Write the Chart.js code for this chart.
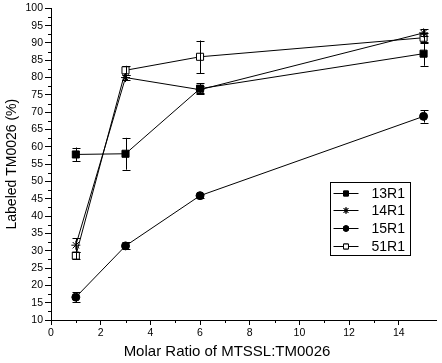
<!DOCTYPE html>
<html>
<head>
<meta charset="utf-8">
<script src="https://cdn.jsdelivr.net/npm/chart.js@4"></script>
<style>
  html, body { margin: 0; padding: 0; background: #fff; }
  #wrap { width: 442px; height: 363px; }
</style>
</head>
<body>
<div id="wrap"><canvas id="chart"></canvas></div>
<script>
// Molar ratios tested
const ratios = [1, 3, 6, 15];

// Labeled fraction (%) per mutant, with error bar half-widths
const labels13R1 = [57.8, 58.0, 76.8, 86.9];
const errors13R1 = [2.0, 4.6, 1.5, 3.5];
const labels14R1 = [31.6, 80.0, 76.5, 92.9];
const errors14R1 = [2.0, 0.8, 1.0, 1.0];
const labels15R1 = [16.6, 31.4, 45.9, 68.8];
const errors15R1 = [1.4, 1.0, 0.6, 1.8];
const labels51R1 = [28.6, 82.1, 86.0, 91.5];
const errors51R1 = [1.0, 1.3, 4.7, 1.5];

const seriesNames = ['13R1', '14R1', '15R1', '51R1'];
const xTitle = 'Molar Ratio of MTSSL:TM0026';
const yTitle = 'Labeled TM0026 (%)';

const FONT = "'Liberation Sans', Arial, sans-serif";

function toPoints(ys) {
    return ratios.map((x, i) => ({ x: x, y: ys[i] }));
}

function makeSet(name, ys, errs, style, radius, fill) {
    return {
        label: name,
        data: toPoints(ys),
        errors: errs,
        borderColor: '#000',
        borderWidth: 1,
        pointStyle: style,
        pointRadius: radius,
        pointHoverRadius: radius,
        pointBackgroundColor: fill,
        pointBorderColor: '#000',
        pointBorderWidth: 1,
        tension: 0,
        fill: false
    };
}

// hide the tick mark of unlabeled (minor) ticks, drawn shorter by the plugin below
function majorTickColor(ctx) {
    return ctx.tick && ctx.tick.label === '' ? 'rgba(0,0,0,0)' : '#000';
}

const minorTicks = {
    id: 'minorTicks',
    afterDraw(chart) {
        const ctx = chart.ctx;
        const xs = chart.scales.x, ys = chart.scales.y;
        ctx.save();
        ctx.strokeStyle = '#000';
        ctx.lineWidth = 1;
        ctx.beginPath();
        xs.ticks.forEach(t => {
            if (t.label !== '') return;
            const px = Math.round(xs.getPixelForValue(t.value)) + 0.5;
            ctx.moveTo(px, xs.top); ctx.lineTo(px, xs.top + 3);
        });
        ys.ticks.forEach(t => {
            if (t.label !== '') return;
            const py = Math.round(ys.getPixelForValue(t.value)) + 0.5;
            ctx.moveTo(ys.right, py); ctx.lineTo(ys.right - 3, py);
        });
        ctx.stroke();
        ctx.restore();
    }
};

// Vertical error bars with caps
const errorBars = {
    id: 'errorBars',
    afterDatasetsDraw(chart) {
        const ctx = chart.ctx;
        const xs = chart.scales.x, ys = chart.scales.y;
        ctx.save();
        ctx.strokeStyle = '#000';
        ctx.lineWidth = 1;
        chart.data.datasets.forEach(ds => {
            ds.data.forEach((p, i) => {
                const e = ds.errors[i];
                const px = Math.round(xs.getPixelForValue(p.x)) + 0.5;
                const top = ys.getPixelForValue(p.y + e);
                const bot = ys.getPixelForValue(p.y - e);
                ctx.beginPath();
                ctx.moveTo(px, top); ctx.lineTo(px, bot);
                ctx.moveTo(px - 4, Math.round(top) + 0.5); ctx.lineTo(px + 4, Math.round(top) + 0.5);
                ctx.moveTo(px - 4, Math.round(bot) + 0.5); ctx.lineTo(px + 4, Math.round(bot) + 0.5);
                ctx.stroke();
            });
        });
        ctx.restore();
    }
};

// x axis title, centred on the page rather than on the axis
const xAxisTitle = {
    id: 'xAxisTitle',
    afterDraw(chart) {
        const ctx = chart.ctx;
        ctx.save();
        ctx.font = '15px ' + FONT;
        ctx.fillStyle = '#000';
        ctx.textAlign = 'center';
        ctx.textBaseline = 'middle';
        ctx.fillText(xTitle, 227, 352);
        ctx.restore();
    }
};

// Boxed legend inside the plot, lower right
const boxLegend = {
    id: 'boxLegend',
    afterDraw(chart) {
        const ctx = chart.ctx;
        const left = 330.5, top = 182.5, w = 80, h = 73;
        ctx.save();
        ctx.fillStyle = '#fff';
        ctx.fillRect(left, top, w, h);
        ctx.strokeStyle = '#000';
        ctx.lineWidth = 1;
        ctx.strokeRect(left, top, w, h);
        ctx.font = '14px ' + FONT;
        ctx.textBaseline = 'middle';
        ctx.fillStyle = '#000';
        chart.data.datasets.forEach((ds, i) => {
            const y = Math.round(top + 10 + i * 17.8) + 0.5;
            ctx.beginPath();
            ctx.moveTo(left + 3, y); ctx.lineTo(left + 28, y);
            ctx.stroke();
            Chart.helpers.drawPoint(ctx, {
                pointStyle: ds.pointStyle,
                radius: ds.pointRadius * 0.7,
                borderWidth: 1
            }, left + 15.5, y);
            ctx.fillStyle = ds.pointBackgroundColor;
            ctx.fill();
            ctx.stroke();
            ctx.fillStyle = '#000';
            ctx.fillText(ds.label, left + 41, y + 1);
        });
        ctx.restore();
    }
};

new Chart(document.getElementById('chart'), {
    type: 'line',
    data: {
        datasets: [
            makeSet(seriesNames[0], labels13R1, errors13R1, 'rect', 5, '#000'),
            makeSet(seriesNames[1], labels14R1, errors14R1, 'star', 4.5, '#000'),
            makeSet(seriesNames[2], labels15R1, errors15R1, 'circle', 4, '#000'),
            makeSet(seriesNames[3], labels51R1, errors51R1, 'rect', 5, '#fff')
        ]
    },
    options: {
        responsive: true,
        maintainAspectRatio: false,
        animation: false,
        layout: { padding: { top: 5, right: 2, left: 0, bottom: 0 } },
        plugins: {
            legend: { display: false },
            tooltip: { enabled: false }
        },
        scales: {
            x: {
                type: 'linear',
                min: 0,
                max: 15.5,
                border: { color: '#000', width: 1 },
                grid: { drawOnChartArea: false, tickLength: 5, tickColor: majorTickColor },
                ticks: {
                    stepSize: 1,
                    autoSkip: false,
                    maxRotation: 0,
                    color: '#000',
                    padding: 2,
                    font: { family: FONT, size: 10.5 },
                    callback: v => (v % 2 === 0 ? v : '')
                },
                afterBuildTicks(scale) {
                    scale.ticks = scale.ticks.filter(t => Number.isInteger(t.value));
                },
                afterFit(scale) { scale.height = 43; },
                title: { display: false }
            },
            y: {
                min: 10,
                max: 100,
                border: { color: '#000', width: 1 },
                grid: { drawOnChartArea: false, tickLength: 6, tickColor: majorTickColor },
                ticks: {
                    stepSize: 2.5,
                    autoSkip: false,
                    color: '#000',
                    padding: 2,
                    font: { family: FONT, size: 10.5 },
                    callback: v => (v % 5 === 0 ? v : '')
                },
                afterFit(scale) { scale.width = 51; },
                title: {
                    display: true,
                    text: yTitle,
                    color: '#000',
                    font: { family: FONT, size: 14 },
                    padding: { top: 4, bottom: 2 }
                }
            }
        }
    },
    plugins: [errorBars, minorTicks, xAxisTitle, boxLegend]
});
</script>
</body>
</html>
